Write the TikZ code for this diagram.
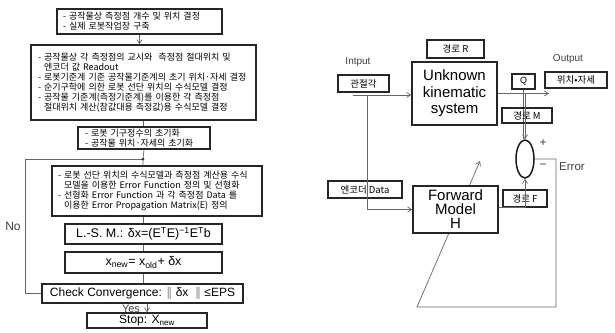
\documentclass[tikz,border=0pt]{standalone}
\usepackage{fontspec}
\setmainfont{Liberation Sans}
\newfontfamily\kr{Noto Sans CJK KR}
\newfontfamily\dv{DejaVu Sans}
\usetikzlibrary{arrows.meta,shapes.geometric,backgrounds}
\tikzset{
  kbox/.style={draw=black!85, line width=1.3pt, fill=white, inner xsep=6pt, inner ysep=0pt,
    align=left, font=\kr\fontsize{9}{10}\selectfont},
  fbox/.style={draw=black!85, line width=1.3pt, fill=white, inner sep=0pt,
    font=\fontsize{12.5}{14}\selectfont},
  lbox/.style={draw=black!85, line width=1.2pt, inner sep=0pt, font=\kr\fontsize{9.5}{10}\selectfont},
  bigbox/.style={draw=black!85, line width=1.5pt, fill=white, inner sep=0pt, align=center,
    font=\fontsize{15}{16.5}\selectfont},
  conn/.style={draw=black!60, line width=0.7pt},
  arr/.style={-{Straight Barb[length=4pt,width=5pt]}},
  lbl/.style={inner sep=0pt, text=black!75}
}
\begin{document}
\begin{tikzpicture}[x=1pt,y=-1pt]
\useasboundingbox (0,0) rectangle (615,332);
% ---------- left flowchart ----------
\node[kbox, text width=153pt, minimum height=25pt] (b1) at (139.5,21.5)
  {- 공작물상 측정점 개수 및 위치 결정\\- 실제 로봇작업장 구축};
\node[kbox, inner xsep=7pt, text width=211pt, minimum height=75pt] (b2) at (143.5,82.5)
  {- 공작물상 각 측정점의 교시와 \ 측정점 절대위치 및\\
   \hspace*{6pt}엔코더 값 Readout\\
   - 로봇기준계 기준 공작물기준계의 초기 위치·자세 결정\\
   - 순기구학에 의한 로봇 선단 위치의 수식모델 결정\\
   - 공작물 기준계(측정기준계)를 이용한 각 측정점\\
   \hspace*{6pt}절대위치 계산(참값대용 측정값)용 수식모델 결정};
\node[kbox, inner xsep=7pt, text width=118pt, minimum height=22pt] (b3) at (144,138)
  {- 로봇 기구정수의 초기화\\- 공작물 위치·자세의 초기화};
\node[kbox, text width=198pt, minimum height=50pt] (b4) at (157,191)
  {- 로봇 선단 위치의 수식모델과 측정점 계산용 수식\\
   \hspace*{6pt}모델을 이용한 Error Function 정의 및 선형화\\
   - 선형화 Error Function 과 각 측정점 Data 를\\
   \hspace*{6pt}이용한 Error Propagation Matrix(E) 정의};
\node[fbox, minimum width=157pt, minimum height=20pt] (lsm) at (143.5,234)
  {L.-S. M.: δx=(E\textsuperscript{T}E)\textsuperscript{−1}E\textsuperscript{T}b};
\node[fbox, minimum width=157pt, minimum height=21pt] (xn) at (143.5,262.5)
  {x\textsubscript{new}= x\textsubscript{old}+ δx};
\node[fbox, minimum width=201pt, minimum height=19pt, font=\fontsize{12}{13}\selectfont] (chk) at (142.5,293.5)
  {Check Convergence: {\dv\color{black!45}‖} δx \ {\dv\color{black!45}‖} ≤EPS};
\node[fbox, minimum width=120pt, minimum height=15pt, font=\fontsize{12}{13}\selectfont] (stop) at (147,320.5)
  {\raisebox{-3pt}{Stop: X\textsubscript{new}}};
\node[lbl, font=\fontsize{11}{12}\selectfont] (yes) at (131,308.5) {Yes};
\node[lbl, font=\fontsize{12}{13}\selectfont] (no) at (13,226) {No};
\coordinate (j) at (143,159);
\coordinate (lx) at (25,159);
\draw[conn,arr] (b1.south) -- (b1.south |- b2.north);
\draw[conn] (b2.south) -- (b2.south |- b3.north);
\draw[conn] (b3.south) -- (j) -- (j |- b4.north);
\draw[conn] (lsm.north |- b4.south) -- (lsm.north);
\draw[conn] (lsm.south) -- (xn.north);
\draw[conn] (xn.south) -- (xn.south |- chk.north);
\draw[conn,arr] (stop.north |- chk.south) -- (stop.north);
\draw[conn] (chk.west) -- (chk.west -| lx) -- (lx) -- (j);
\fill[black!80] (j) circle (1.5);
% ---------- right block diagram ----------
\node[lbox, minimum width=57pt, minimum height=18pt] (pr) at (455.5,49) {경로 R};
\node[lbox, minimum width=51pt, minimum height=17pt] (jt) at (363.5,83.5) {관절각};
\node[lbl, font=\fontsize{10}{11}\selectfont] (inp) at (358,62) {Intput};
\node[bigbox, minimum width=85pt, minimum height=63pt] (u) at (454.5,93.5)
  {Unknown\\kinematic\\system};
\node[lbox, minimum width=23pt, minimum height=15pt, font=\fontsize{9}{10}\selectfont] (q) at (523.5,81.5) {Q};
\node[lbox, minimum width=62pt, minimum height=16pt] (pos) at (576,80) {위치•자세};
\node[lbl, font=\fontsize{10}{11}\selectfont] (outp) at (568,59) {Output};
\node[lbox, minimum width=50pt, minimum height=15pt] (pm) at (527,115.5) {경로 M};
\node[draw=black!90, line width=1.5pt, ellipse, minimum width=18pt, minimum height=38pt, inner sep=0pt] (e) at (525,159) {};
\node[lbl, font=\fontsize{12}{13}\selectfont] (plus) at (543,143) {+};
\node[lbl, font=\fontsize{12}{13}\selectfont] (minus) at (543,166) {−};
\node[lbl, anchor=west, font=\fontsize{11.5}{13}\selectfont] (err) at (559,167) {Error};
\node[lbox, minimum width=74pt, minimum height=17pt] (enc) at (365,189.5) {엔코더 Data};
\node[bigbox, minimum width=85pt, minimum height=47pt, font=\fontsize{15}{14}\selectfont] (f) at (455.5,209.5)
  {Forward\\Model\\H};
\node[lbox, minimum width=44pt, minimum height=17pt] (pf) at (525,198.5) {경로 F};
\coordinate (inst) at (353,95);
\coordinate (split) at (367,95);
\coordinate (outend) at (549,93.5);
\coordinate (c1) at (556,307);
\coordinate (c2) at (417,307);
\coordinate (tip) at (480,161);
\begin{scope}[on background layer]
\draw[conn,arr] (e.east) -- (e.east -| c1) -- (c1) -- (c2) -- (tip);
\draw[conn] (q.south) -- (q.south |- e.north);
\end{scope}
\draw[conn,arr] (inst) -- (inst -| u.west);
\draw[conn,arr] (split) |- (f.west);
\draw[conn,arr] (u.east) -- (outend);
\draw[conn,arr] (u.east -| e.north) -- (e.north);
\draw[conn,arr] (f.east |- pf.south) -| (e.south);
\end{tikzpicture}
\end{document}
